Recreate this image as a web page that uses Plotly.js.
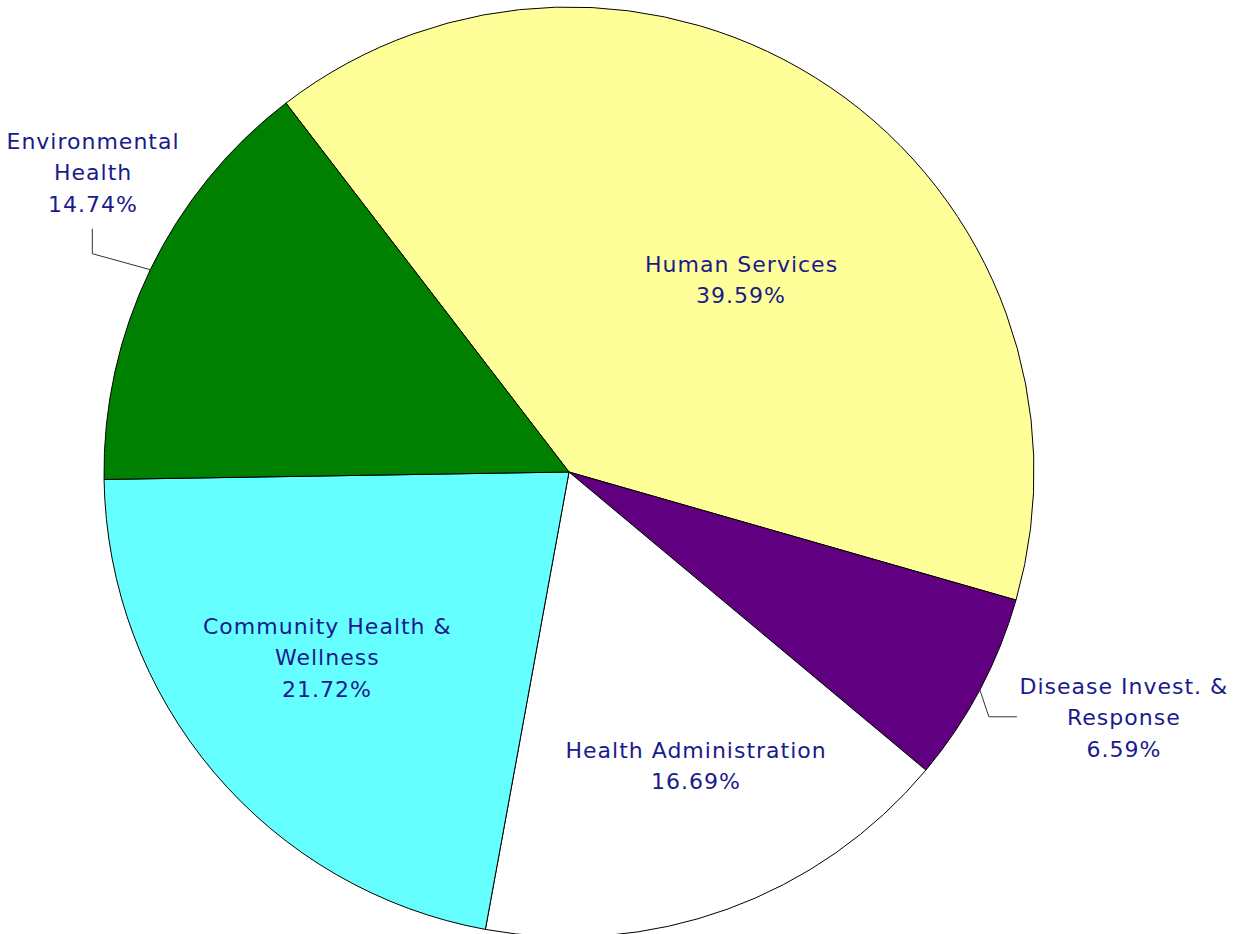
<!DOCTYPE html>
<html>
<head>
<meta charset="utf-8">
<script src="https://cdn.plot.ly/plotly-3.0.1.min.js"></script>
<style>
  html, body { margin: 0; padding: 0; overflow: hidden; background: #ffffff; }
  #chart text { letter-spacing: 1px; }
</style>
</head>
<body>
<div id="chart"></div>
<script>
// ---- data ----
const categories = ['Human Services', 'Disease Invest. & Response', 'Health Administration', 'Community Health & Wellness', 'Environmental Health'];
const values = [39.59, 6.59, 16.69, 21.72, 14.74];
const labelLines = [['Human Services'], ['Disease Invest. &', 'Response'], ['Health Administration'], ['Community Health &', 'Wellness'], ['Environmental', 'Health']];
const sliceColors = ['#FFFF99', '#600080', '#FFFFFF', '#66FFFF', '#008000'];

// ---- layout geometry (pixels) ----
const W = 1246, H = 940;
const cx = 569, cy = 472, R = 465;
const rotation = -37.5;
const lineGap = 31.5;
const textFont = { family: 'DejaVu Sans, Verdana, sans-serif', size: 22, color: '#1a1a8c' };

// label placement per slice
const placement = [
  { mode: 'inside', shift: 7.66, r: 0.555 },
  { mode: 'outside', elbow: [9, 27], end: [37, 27], text: [144, 28] },
  { mode: 'inside', shift: -3.46, r: 0.689 },
  { mode: 'inside', shift: 2.74, r: 0.656 },
  { mode: 'outside', elbow: [-58, -16], end: [-58, -41], text: [-57, -97] }
];

const total = values.reduce((a, b) => a + b, 0);
const px = x => x / W;
const py = y => 1 - y / H;
const rad = d => d * Math.PI / 180;

const annotations = [];
const shapes = [];
let cum = 0;
values.forEach((v, i) => {
  const a0 = rotation + cum / total * 360;
  const mid = a0 + v / total * 180;
  cum += v;
  const p = placement[i];
  let tx, ty;
  if (p.mode === 'inside') {
    const a = rad(mid + p.shift);
    tx = cx + p.r * R * Math.sin(a);
    ty = cy - p.r * R * Math.cos(a);
  } else {
    const a = rad(mid);
    const ex = cx + R * Math.sin(a);
    const ey = cy - R * Math.cos(a);
    tx = ex + p.text[0];
    ty = ey + p.text[1];
    shapes.push({
      type: 'path', xref: 'paper', yref: 'paper',
      path: 'M ' + px(ex) + ' ' + py(ey) +
            ' L ' + px(ex + p.elbow[0]) + ' ' + py(ey + p.elbow[1]) +
            ' L ' + px(ex + p.end[0]) + ' ' + py(ey + p.end[1]),
      line: { color: '#333333', width: 1 }
    });
  }
  const lines = labelLines[i].concat([v.toFixed(2) + '%']);
  const n = lines.length;
  lines.forEach((t, k) => {
    annotations.push({
      xref: 'paper', yref: 'paper',
      x: px(tx), y: py(ty + (k - (n - 1) / 2) * lineGap),
      xanchor: 'center', yanchor: 'middle',
      text: t, showarrow: false, font: textFont
    });
  });
});

const trace = {
  type: 'pie',
  labels: categories,
  values: values,
  sort: false,
  direction: 'clockwise',
  rotation: rotation,
  textinfo: 'none',
  hoverinfo: 'skip',
  marker: { colors: sliceColors, line: { color: '#000000', width: 1 } },
  domain: { x: [(cx - R) / W, (cx + R) / W], y: [(H - cy - R) / H, (H - cy + R) / H] }
};

Plotly.newPlot('chart', [trace], {
  width: W, height: H,
  margin: { l: 0, r: 0, t: 0, b: 0 },
  showlegend: false,
  paper_bgcolor: '#ffffff',
  annotations: annotations,
  shapes: shapes
}, { displayModeBar: false, staticPlot: true });
</script>
</body>
</html>
